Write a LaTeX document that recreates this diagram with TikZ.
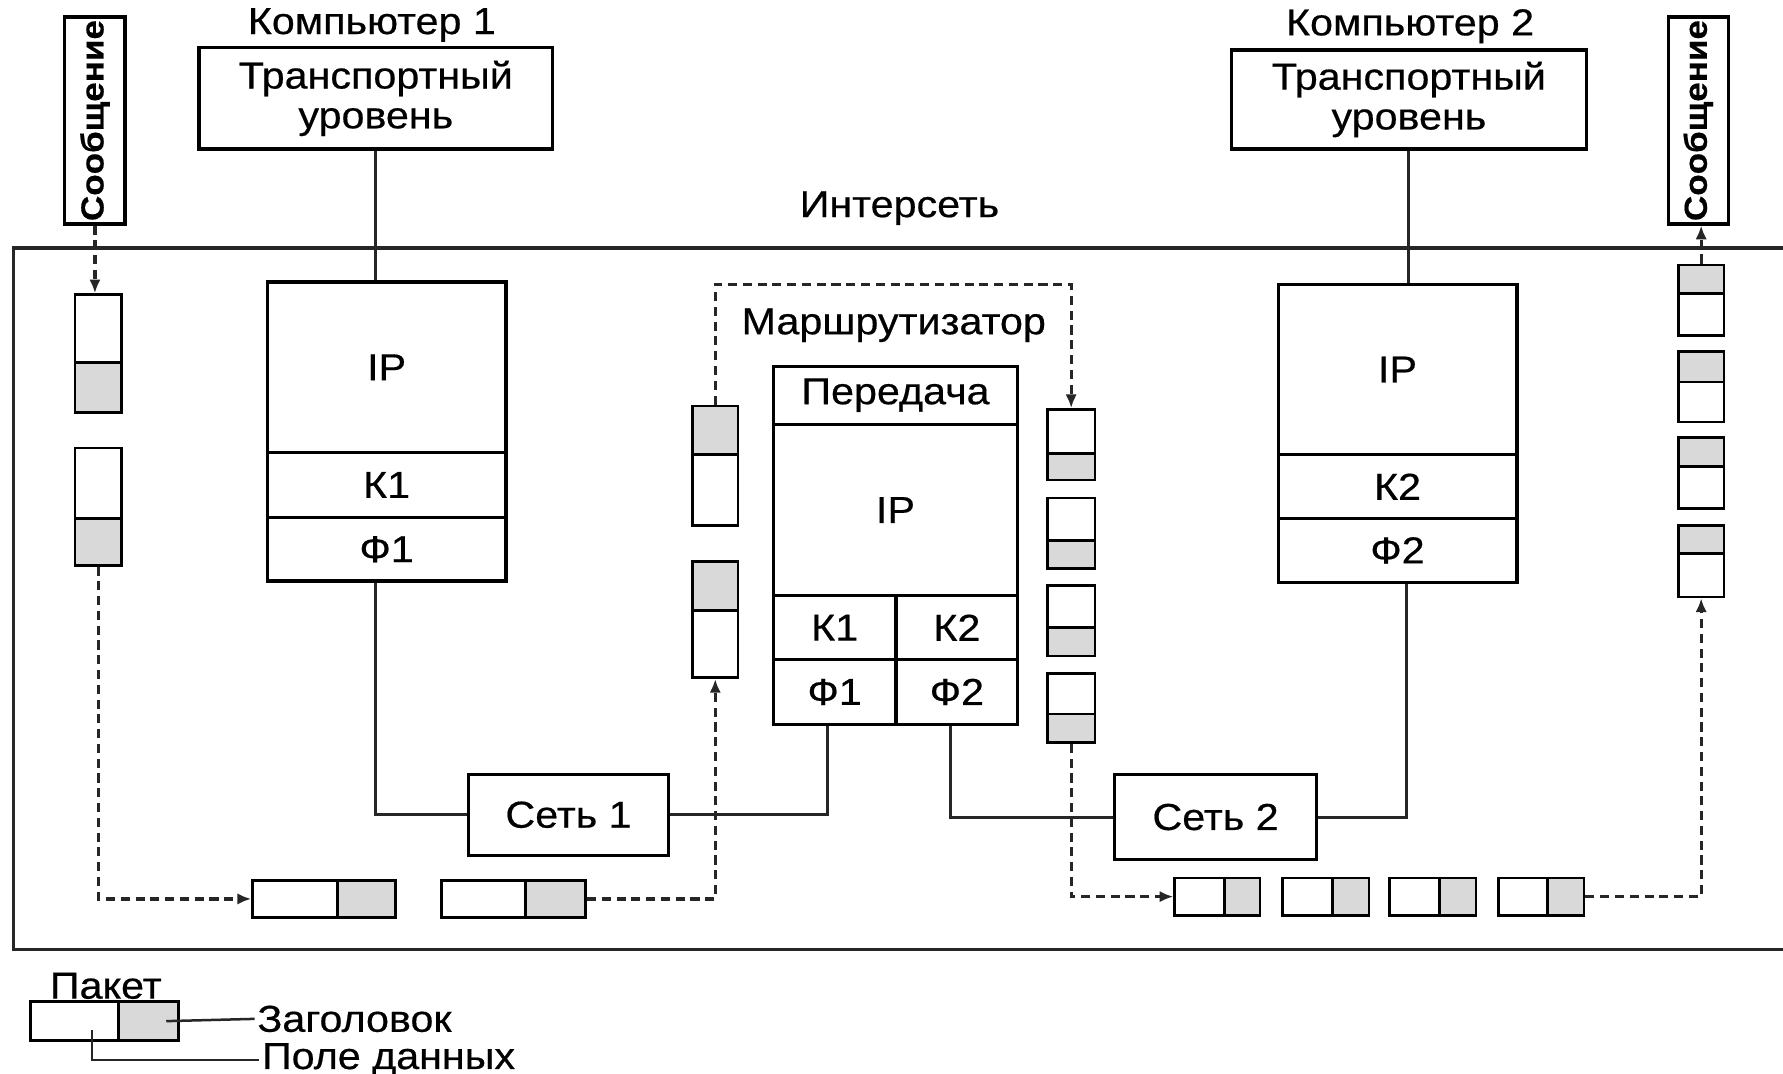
\documentclass[tikz,border=0pt]{standalone}
\usepackage{fontspec}
\setmainfont{Liberation Sans}[FakeStretch=1.1,FakeBold=0.5]
\usetikzlibrary{arrows.meta,calc}
\colorlet{hdrc}{black!15}
\begin{document}
\begin{tikzpicture}[x=0.5pt,y=-0.5pt,
  txt/.style={font=\fontsize{16.5pt}{18pt}\selectfont, inner sep=0pt},
  box/.style={draw, line width=1.4pt, fill=white, inner sep=0pt, font=\fontsize{16.5pt}{17.5pt}\selectfont, align=center},
  msg/.style={inner sep=0pt, font=\bfseries\fontsize{14pt}{16pt}\selectfont},
  pkt/.style={draw, line width=1.2pt, inner sep=0pt, fill=white},
  hb/.style={path picture={\fill[hdrc] (path picture bounding box.south west) rectangle ([yshift=#1]path picture bounding box.south east); \draw[line width=1.2pt] ([yshift=#1]path picture bounding box.south west) -- ([yshift=#1]path picture bounding box.south east);}},
  ht/.style={path picture={\fill[hdrc] (path picture bounding box.north west) rectangle ([yshift=-#1]path picture bounding box.north east); \draw[line width=1.2pt] ([yshift=-#1]path picture bounding box.north west) -- ([yshift=-#1]path picture bounding box.north east);}},
  hr/.style={path picture={\fill[hdrc] ([xshift=-#1]path picture bounding box.south east) rectangle (path picture bounding box.north east); \draw[line width=1.2pt] ([xshift=-#1]path picture bounding box.south east) -- ([xshift=-#1]path picture bounding box.north east);}},
  cline/.style={line width=1.3pt, black!85},
  dline/.style={line width=1.4pt, black!85, dash pattern=on 4pt off 2.5pt},
  arr/.style={-{Latex[length=6pt,width=5pt]}},
  frame/.style={line width=1.6pt, black!85}
]
\useasboundingbox (0,0) rectangle (1568,944);

% Internet frame
\draw[frame] (1568,218) -- (12,218) -- (12,835) -- (1568,835);
\node[txt] (inet) at (791,183) {Интерсеть};

% Computer 1
\node[txt] (comp1) at (327,22) {Компьютер 1};
\node[box, minimum width=155.5pt, minimum height=44.5pt] (t1) at (330.5,86.5) {Транспортный\\уровень};
\node[box, minimum width=105pt, minimum height=75pt] (ip1) at (340,323) {IP};
\node[box, minimum width=105pt, minimum height=28.5pt] (k1) at (340,426.5) {К1};
\node[box, minimum width=105pt, minimum height=28pt] (f1) at (340,483) {Ф1};

% Computer 2
\node[txt] (comp2) at (1240,23) {Компьютер 2};
\node[box, minimum width=156pt, minimum height=43.5pt] (t2) at (1239,87.5) {Транспортный\\уровень};
\node[box, minimum width=105pt, minimum height=75pt] (ip2) at (1229,325) {IP};
\node[box, minimum width=105pt, minimum height=28pt] (k2) at (1229,428) {К2};
\node[box, minimum width=105pt, minimum height=28pt] (f2) at (1229,484) {Ф2};

% Router
\node[txt] (rlab) at (786,286) {Маршрутизатор};
\node[box, minimum width=107.5pt, minimum height=25.5pt] (rtx) at (787.5,347.5) {Передача};
\node[box, minimum width=107.5pt, minimum height=75.5pt] (rip) at (787.5,448.5) {IP};
\node[box, minimum width=54pt, minimum height=28pt] (rk1) at (734,552) {К1};
\node[box, minimum width=53.5pt, minimum height=28pt] (rk2) at (841.5,552) {К2};
\node[box, minimum width=54pt, minimum height=28.5pt] (rf1) at (734,608.5) {Ф1};
\node[box, minimum width=53.5pt, minimum height=28.5pt] (rf2) at (841.5,608.5) {Ф2};

% Networks
\node[box, minimum width=88pt, minimum height=35.5pt] (n1) at (500,716.5) {Сеть 1};
\node[box, minimum width=89pt, minimum height=37.5pt] (n2) at (1069,718.5) {Сеть 2};

% Messages
\node[box, minimum width=26.5pt, minimum height=91pt] (m1) at (83.5,106) {};
\node[msg, rotate=90] (m1t) at (m1.center) {Сообщение};
\node[box, minimum width=26.5pt, minimum height=91pt] (m2) at (1493.5,106) {};
\node[msg, rotate=90] (m2t) at (m2.center) {Сообщение};

% Packets, left column
\node[pkt, minimum width=20.5pt, minimum height=52pt, hb=22pt] (lp1) at (86.5,311) {};
\node[pkt, minimum width=20.5pt, minimum height=51.5pt, hb=20.5pt] (lp2) at (86.5,445.5) {};
% Packets, bottom left
\node[pkt, minimum width=63pt, minimum height=16.5pt, hr=25.5pt] (h1) at (285,790.5) {};
\node[pkt, minimum width=63.5pt, minimum height=16.5pt, hr=26.5pt] (h2) at (451.5,790.5) {};
% Packets, router left
\node[pkt, minimum width=20pt, minimum height=52.5pt, ht=21.5pt] (v1) at (629,409.5) {};
\node[pkt, minimum width=20pt, minimum height=51pt, ht=21.5pt] (v2) at (629,545) {};
% Packets, router right
\node[pkt, minimum width=21pt, minimum height=31pt, hb=11.5pt] (r1) at (942,391) {};
\node[pkt, minimum width=21pt, minimum height=31pt, hb=12.5pt] (r2) at (942,469) {};
\node[pkt, minimum width=21pt, minimum height=31pt, hb=12.5pt] (r3) at (942,546) {};
\node[pkt, minimum width=21pt, minimum height=30.5pt, hb=12.5pt] (r4) at (942,622.5) {};
% Packets, bottom right
\node[pkt, minimum width=37.5pt, minimum height=16.5pt, hr=15.5pt] (h3) at (1070.5,788.5) {};
\node[pkt, minimum width=38pt, minimum height=16.5pt, hr=16pt] (h4) at (1166,788.5) {};
\node[pkt, minimum width=38pt, minimum height=16.5pt, hr=16pt] (h5) at (1260,788.5) {};
\node[pkt, minimum width=37.5pt, minimum height=16.5pt, hr=16pt] (h6) at (1355.5,788.5) {};
% Packets, right column
\node[pkt, minimum width=20pt, minimum height=31pt, ht=12.5pt] (c1) at (1496,264) {};
\node[pkt, minimum width=20pt, minimum height=31pt, ht=13.5pt] (c2) at (1496,340) {};
\node[pkt, minimum width=20pt, minimum height=31pt, ht=12.5pt] (c3) at (1496,416) {};
\node[pkt, minimum width=20pt, minimum height=31.5pt, ht=12.5pt] (c4) at (1496,493.5) {};

% Solid connectors
\draw[cline] (t1.south) -- (t1.south |- ip1.north);
\draw[cline] ([xshift=-5pt]f1.south) |- (n1.west);
\draw[cline] (n1.east) -| ([xshift=-3pt]rf1.south);
\draw[cline] ([xshift=-3pt]rf2.south) |- (n2.west);
\draw[cline] (n2.east) -| ([xshift=4pt]f2.south);
\draw[cline] (t2.south) -- (t2.south |- ip2.north);

% Dashed packet flow
\coordinate (rtop) at (785,250);
\draw[dline, arr] (m1.south) -- (m1.south |- lp1.north);
\draw[dline, arr] (lp2.south) |- (h1.west);
\draw[dline, arr] (h2.east) -| (v2.south);
\draw[dline, arr] (v1.north) |- (rtop) -| (r1.north);
\draw[dline, arr] (r4.south) |- (h3.west);
\draw[dline, arr] (h6.east) -| (c4.south);
\draw[dline, arr] (c1.north) -- (c1.north |- m2.south);

% Legend
\node[txt] (pak) at (93,867) {Пакет};
\node[pkt, minimum width=65pt, minimum height=17pt, hr=26.5pt] (lg) at (92,898) {};
\node[txt, anchor=west, inner sep=1pt] (zag) at (224,896) {Заголовок};
\node[txt, anchor=west, inner sep=1pt] (pole) at (228,932) {Поле данных};
\coordinate (ldat) at (81,906);
\draw[cline, line width=1.1pt] ([xshift=-6pt]lg.east) -- (zag.west);
\draw[cline, line width=1.1pt] (ldat) |- (pole.west);
\end{tikzpicture}
\end{document}
